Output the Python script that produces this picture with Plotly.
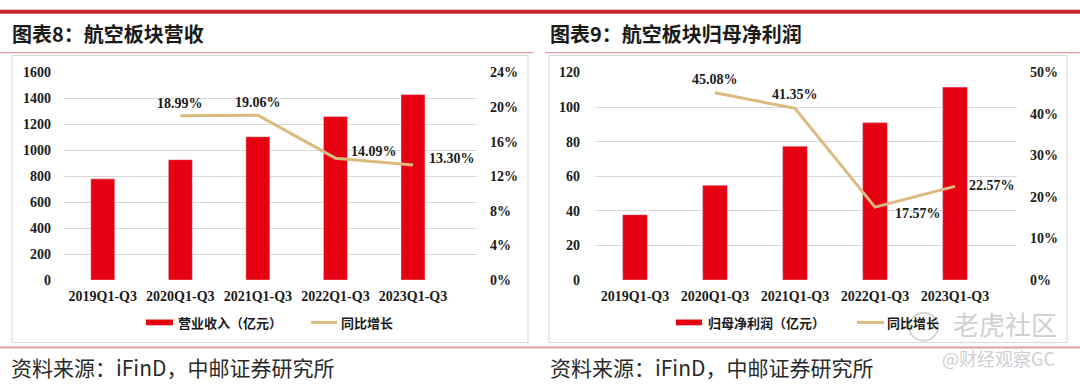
import plotly.graph_objects as go
from plotly.subplots import make_subplots

# ---------------- data ----------------
categories = ["2019Q1-Q3", "2020Q1-Q3", "2021Q1-Q3", "2022Q1-Q3", "2023Q1-Q3"]
revenue = [780, 928, 1105, 1261, 1429]                      # 营业收入（亿元）
revenue_growth = [None, 0.1899, 0.1906, 0.1409, 0.1330]      # 同比增长
profit = [37.8, 54.8, 77.4, 91.0, 111.5]                    # 归母净利润（亿元）
profit_growth = [None, 0.4508, 0.4135, 0.1757, 0.2257]       # 同比增长

title_left = "图表8：航空板块营收"
title_right = "图表9：航空板块归母净利润"
legend_left = ["营业收入（亿元）", "同比增长"]
legend_right = ["归母净利润（亿元）", "同比增长"]
source_text = "资料来源：iFinD，中邮证券研究所"

# ---------------- styles ----------------
W, H = 1080, 391
BAR = "#E60012"
LINE = "#DDB97F"
GRID = "#D9D9D9"
SERIF = "Times New Roman, Liberation Serif, serif"
CJK = "Noto Sans CJK SC, sans-serif"


def px(x):
    return x / W


def py(y):
    return 1 - y / H


fig = make_subplots(rows=1, cols=2, specs=[[{"secondary_y": True}, {"secondary_y": True}]])

fig.add_trace(go.Bar(x=categories, y=revenue, marker_color=BAR, name=legend_left[0],
                     showlegend=False), row=1, col=1, secondary_y=False)
fig.add_trace(go.Scatter(x=categories, y=revenue_growth, mode="lines", line=dict(color=LINE, width=3),
                         name=legend_left[1], showlegend=False), row=1, col=1, secondary_y=True)
fig.add_trace(go.Bar(x=categories, y=profit, marker_color=BAR, name=legend_right[0],
                     showlegend=False), row=1, col=2, secondary_y=False)
fig.add_trace(go.Scatter(x=categories, y=profit_growth, mode="lines", line=dict(color=LINE, width=3),
                         name=legend_right[1], showlegend=False), row=1, col=2, secondary_y=True)

ydom = [py(284), py(68)]
tickfont = dict(family=SERIF, size=14, color="#1a1a1a", weight="bold")

fig.update_layout(
    width=W, height=H, margin=dict(l=0, r=0, t=0, b=0),
    paper_bgcolor="white", plot_bgcolor="white",
    bargap=0.69, showlegend=False,
    xaxis=dict(domain=[px(64), px(477)], tickfont=tickfont, showgrid=False, showline=False,
               ticks="", ticklabelstandoff=6),
    xaxis2=dict(domain=[px(595), px(1017)], tickfont=tickfont, showgrid=False, showline=False,
                ticks="", ticklabelstandoff=6),
    yaxis=dict(domain=ydom, range=[0, 1600], dtick=200, tickfont=tickfont, gridcolor=GRID,
               zeroline=False, showline=False, ticks="", ticklabelstandoff=12),
    yaxis2=dict(range=[0, 0.24], dtick=0.04, tickformat=".0%", tickfont=tickfont, showgrid=False,
                zeroline=False, showline=False, ticks="", ticklabelstandoff=12),
    yaxis3=dict(domain=ydom, range=[0, 120], dtick=20, tickfont=tickfont, gridcolor=GRID,
                zeroline=False, showline=False, ticks="", ticklabelstandoff=14),
    yaxis4=dict(range=[0, 0.5], dtick=0.1, tickformat=".0%", tickfont=tickfont, showgrid=False,
                zeroline=False, showline=False, ticks="", ticklabelstandoff=12),
)

# ---------------- data labels on the growth lines ----------------
label_font = dict(family=SERIF, size=14, color="#1a1a1a", weight="bold")
left_pos = [None, ("center", 0, "bottom", 3), ("center", 0, "bottom", 3),
            ("left", 14, "middle", 7), ("left", 14, "middle", 7)]
right_pos = [None, ("center", 0, "bottom", 4), ("center", 0, "bottom", 4),
             ("left", 18, "middle", -6), ("left", 12, "middle", 1)]

for vals, pos, xr, yr in [(revenue_growth, left_pos, "x", "y2"), (profit_growth, right_pos, "x2", "y4")]:
    for c, v, p in zip(categories, vals, pos):
        if v is None:
            continue
        fig.add_annotation(x=c, y=v, xref=xr, yref=yr, text=f"{v * 100:.2f}%", showarrow=False,
                           xanchor=p[0], xshift=p[1], yanchor=p[2], yshift=p[3], font=label_font)

# ---------------- decoration: rules, frames, titles ----------------
shapes = []
shapes.append(dict(type="line", xref="paper", yref="paper", x0=0, x1=1, y0=py(5), y1=py(5),
                   line=dict(color="#C1272D", width=4)))
shapes.append(dict(type="line", xref="paper", yref="paper", x0=0, x1=px(533), y0=py(47.5), y1=py(47.5),
                   line=dict(color="#D98B90", width=1)))
shapes.append(dict(type="line", xref="paper", yref="paper", x0=px(545), x1=1, y0=py(47.5), y1=py(47.5),
                   line=dict(color="#D98B90", width=1)))
shapes.append(dict(type="line", xref="paper", yref="paper", x0=0, x1=1, y0=py(354), y1=py(354),
                   line=dict(color="#DFA0A5", width=2)))
for x0, x1 in [(12, 528), (549, 1067)]:
    shapes.append(dict(type="rect", xref="paper", yref="paper", x0=px(x0), x1=px(x1), y0=py(349), y1=py(50.5),
                       line=dict(color="#D6D6D6", width=1), layer="below"))

# custom legends
leg_font = dict(family=CJK, size=13, color="#1a1a1a", weight="bold")
LEG_Y = 328
for (r0, r1, t0, l0, l1, t1), names in [((146, 173, 177, 311, 337, 340), legend_left),
                                         ((676, 702, 707, 857, 884, 886), legend_right)]:
    shapes.append(dict(type="rect", xref="paper", yref="paper", x0=px(r0), x1=px(r1),
                       y0=py(LEG_Y + 3), y1=py(LEG_Y - 3), line=dict(width=0), fillcolor=BAR))
    shapes.append(dict(type="line", xref="paper", yref="paper", x0=px(l0), x1=px(l1),
                       y0=py(LEG_Y), y1=py(LEG_Y), line=dict(color=LINE, width=3)))
    fig.add_annotation(x=px(t0), y=py(LEG_Y), xref="paper", yref="paper", text=names[0], showarrow=False,
                       xanchor="left", yanchor="middle", font=leg_font, borderpad=0)
    fig.add_annotation(x=px(t1), y=py(LEG_Y), xref="paper", yref="paper", text=names[1], showarrow=False,
                       xanchor="left", yanchor="middle", font=leg_font, borderpad=0)

# watermark logo circle
shapes.append(dict(type="circle", xref="paper", yref="paper", x0=px(909), x1=px(938), y0=py(347), y1=py(318),
                   line=dict(color="#D5D5D5", width=2)))
fig.update_layout(shapes=shapes)

title_font = dict(family=CJK, size=20, color="#1a1a1a", weight="bold")
for x0, t in [(11, title_left), (549, title_right)]:
    fig.add_annotation(x=px(x0), y=py(28), xref="paper", yref="paper", text=t, showarrow=False,
                       xanchor="left", yanchor="middle", font=title_font, borderpad=0)

src_font = dict(family=CJK, size=21, color="#2a2a2a")
for x0 in [10, 549]:
    fig.add_annotation(x=px(x0), y=py(374), xref="paper", yref="paper", text=source_text, showarrow=False,
                       xanchor="left", yanchor="middle", font=src_font, borderpad=0)

# watermark texts
fig.add_annotation(x=px(952), y=py(329), xref="paper", yref="paper", text="老虎社区", showarrow=False,
                   xanchor="left", yanchor="middle", font=dict(family=CJK, size=26, color="#D0D0D0"), borderpad=0)
fig.add_annotation(x=px(941), y=py(365), xref="paper", yref="paper", text="@财经观察GC", showarrow=False,
                   xanchor="left", yanchor="middle", font=dict(family=CJK, size=18, color="#CFCFCF"), borderpad=0)

fig.write_html("out.html", config={"displayModeBar": False},
               post_script="document.body.style.margin='0';")
